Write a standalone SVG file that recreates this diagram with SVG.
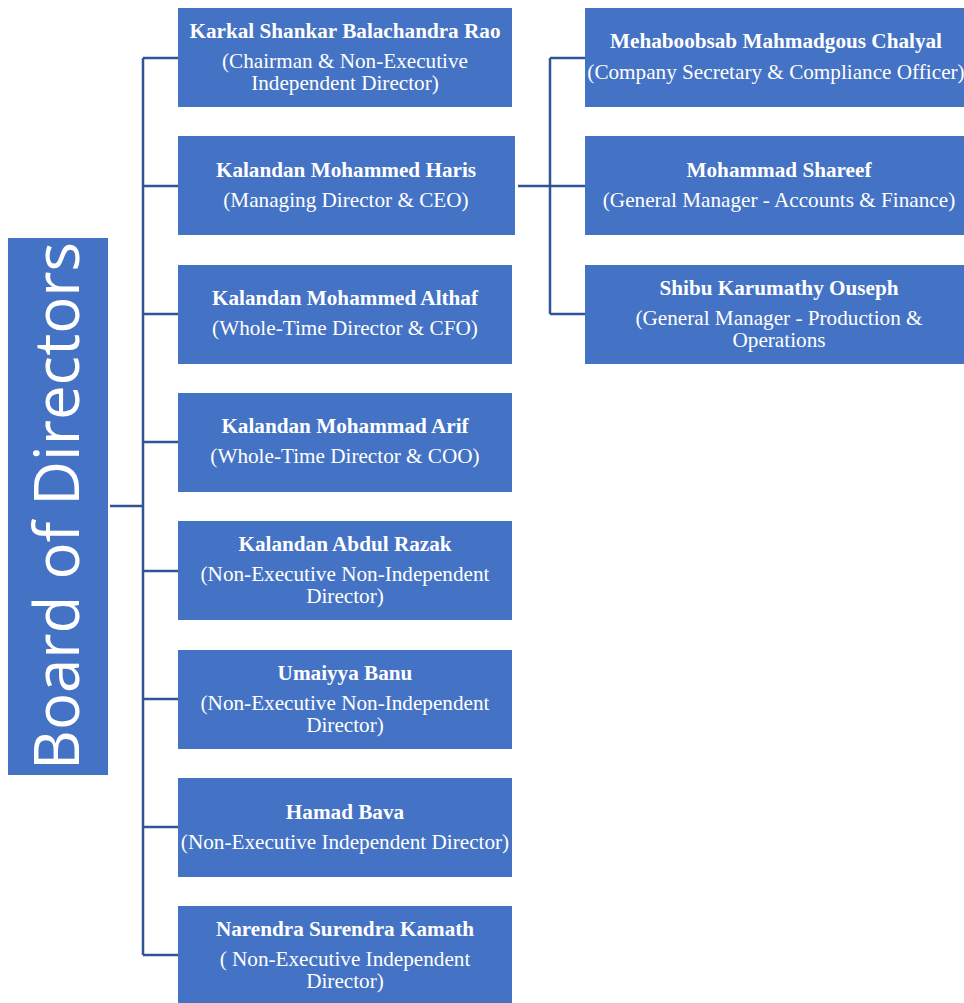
<svg xmlns="http://www.w3.org/2000/svg" width="964" height="1003" viewBox="0 0 964 1003">
<style>
.box{fill:#4472C4}
.t{font-family:"Liberation Serif","Times New Roman",serif;fill:#fff;text-anchor:middle;font-size:21.2px}
.b{font-weight:bold}
.ln{stroke:#2F5597;stroke-width:2.5;fill:none}
</style>
<rect width="964" height="1003" fill="#fff"/>
<g id="connectors">
<path class="ln" d="M110 506H143M143 58V955M143 58H178M143 186H178M143 314H178M143 442H178M143 571H178M143 699H178M143 827H178M143 955H178"/>
<path class="ln" d="M518 186H550M550 58V314M550 58H585M550 186H585M550 314H585"/>
</g>
<g id="board">
<rect class="box" x="8" y="238" width="100" height="537"/>
<text transform="translate(79,506) rotate(-90)" text-anchor="middle" font-family="Open Sans, Noto Sans, sans-serif" font-size="62" fill="#fff" textLength="528" lengthAdjust="spacingAndGlyphs">Board of Directors</text>
</g>
<g id="n1"><rect class="box" x="178" y="8" width="334" height="99"/>
<text class="t b" x="345" y="38">Karkal Shankar Balachandra Rao</text>
<text class="t" x="345" y="68">(Chairman &amp; Non-Executive</text>
<text class="t" x="345" y="90">Independent Director)</text></g>
<g id="n2"><rect class="box" x="178" y="136" width="337" height="99"/>
<text class="t b" x="346" y="177">Kalandan Mohammed Haris</text>
<text class="t" x="346" y="207">(Managing Director &amp; CEO)</text></g>
<g id="n3"><rect class="box" x="178" y="265" width="334" height="99"/>
<text class="t b" x="345" y="305">Kalandan Mohammed Althaf</text>
<text class="t" x="345" y="335">(Whole-Time Director &amp; CFO)</text></g>
<g id="n4"><rect class="box" x="178" y="393" width="334" height="99"/>
<text class="t b" x="345" y="433">Kalandan Mohammad Arif</text>
<text class="t" x="345" y="463">(Whole-Time Director &amp; COO)</text></g>
<g id="n5"><rect class="box" x="178" y="521" width="334" height="99"/>
<text class="t b" x="345" y="551">Kalandan Abdul Razak</text>
<text class="t" x="345" y="581">(Non-Executive Non-Independent</text>
<text class="t" x="345" y="603">Director)</text></g>
<g id="n6"><rect class="box" x="178" y="650" width="334" height="99"/>
<text class="t b" x="345" y="680">Umaiyya Banu</text>
<text class="t" x="345" y="710">(Non-Executive Non-Independent</text>
<text class="t" x="345" y="732">Director)</text></g>
<g id="n7"><rect class="box" x="178" y="778" width="334" height="99"/>
<text class="t b" x="345" y="819">Hamad Bava</text>
<text class="t" x="345" y="849">(Non-Executive Independent Director)</text></g>
<g id="n8"><rect class="box" x="178" y="906" width="334" height="97"/>
<text class="t b" x="345" y="936">Narendra Surendra Kamath</text>
<text class="t" x="345" y="966">( Non-Executive Independent</text>
<text class="t" x="345" y="988">Director)</text></g>
<g id="r1"><rect class="box" x="585" y="8" width="379" height="99"/>
<text class="t b" x="776" y="48">Mehaboobsab Mahmadgous Chalyal</text>
<text class="t" x="776" y="79">(Company Secretary &amp; Compliance Officer)</text></g>
<g id="r2"><rect class="box" x="585" y="136" width="379" height="99"/>
<text class="t b" x="779" y="177">Mohammad Shareef</text>
<text class="t" x="779" y="207">(General Manager - Accounts &amp; Finance)</text></g>
<g id="r3"><rect class="box" x="585" y="265" width="379" height="99"/>
<text class="t b" x="779" y="295">Shibu Karumathy Ouseph</text>
<text class="t" x="779" y="325">(General Manager - Production &amp;</text>
<text class="t" x="779" y="347">Operations</text></g>
</svg>
